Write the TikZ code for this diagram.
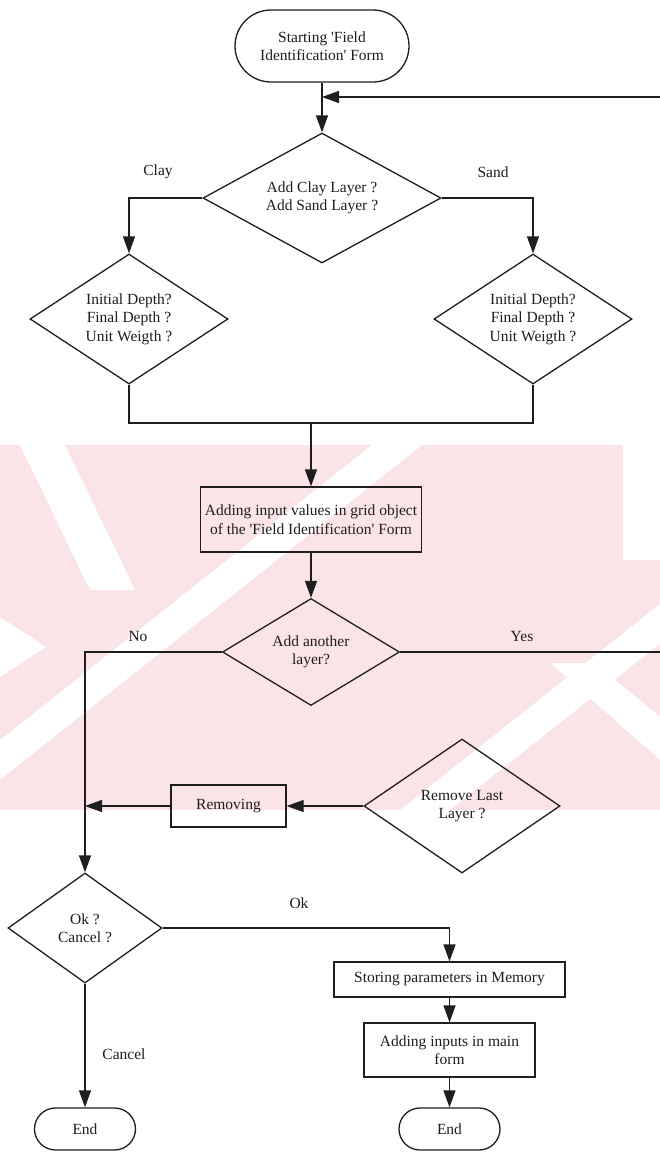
\documentclass[tikz,border=0pt]{standalone}
\usepackage{fontspec}
\setmainfont{Liberation Serif}
\usetikzlibrary{shapes.geometric,shapes.misc,arrows.meta}
\definecolor{ink}{RGB}{30,30,30}
\definecolor{wmpink}{RGB}{250,228,231}

\begin{document}
\begin{tikzpicture}[x=1pt,y=-1pt,
  font=\fontsize{15.5}{18.5}\selectfont,
  every node/.style={text=ink},
  line/.style={draw=ink, line width=1.3pt},
  arr/.style={line, -{Triangle[length=17pt,width=12pt]}},
  term/.style={rounded rectangle, draw=ink, line width=1.3pt, inner sep=0pt, align=center},
  decision/.style={diamond, draw=ink, line width=1.3pt, inner sep=0pt, align=center},
  process/.style={rectangle, draw=ink, line width=1.3pt, inner sep=0pt, align=center},
  lbl/.style={inner sep=0pt}
]
% page frame
\fill[white] (0,0) rectangle (660,1152);
\useasboundingbox (0,0) rectangle (660,1152);

% pale background band with diagonal cuts
\begin{scope}
  \clip (0,445) rectangle (660,810);
  \fill[wmpink] (0,445) rectangle (660,810);
  \fill[white] (20,445) -- (65,445) -- (135,590) -- (90,590) -- cycle;
  \fill[white] (372,445) -- (422,445) -- (-38,810) -- (-88,810) -- cycle;
  \fill[white] (400,810) -- (450,810) -- (710,604) -- (660,604) -- cycle;
  \fill[white] (550,663) -- (595,663) -- (700,750) -- (700,795) -- cycle;
  \fill[white] (623,445) rectangle (660,560);
  \fill[white] (0,617) -- (46,647) -- (0,677) -- cycle;
\end{scope}

% terminals, decisions and steps
\node[term, minimum width=174pt, minimum height=72pt] (start) at (322,46)
  {Starting \textquotesingle Field\\Identification\textquotesingle\ Form};
\node[decision, minimum width=238pt, minimum height=130pt, shape aspect=1.83] (d1) at (322,198)
  {Add Clay Layer ?\\Add Sand Layer ?};
\node[decision, minimum width=198pt, minimum height=130pt, shape aspect=1.5] (dl) at (129,319)
  {Initial Depth?\\Final Depth ?\\Unit Weigth ?};
\node[decision, minimum width=198pt, minimum height=130pt, shape aspect=1.5] (dr) at (533,319)
  {Initial Depth?\\Final Depth ?\\Unit Weigth ?};
\node[process, minimum width=221pt, minimum height=65pt] (grid) at (311,519.5)
  {Adding input values in grid object\\of the \textquotesingle Field Identification\textquotesingle\ Form};
\node[decision, minimum width=177pt, minimum height=107pt, shape aspect=1.65] (d3) at (311,652)
  {Add another\\layer?};
\node[decision, minimum width=196pt, minimum height=134pt, shape aspect=1.46] (rmd) at (462,806)
  {Remove Last\\Layer ?};
\node[process, minimum width=115pt, minimum height=42pt] (rem) at (228.5,806) {Removing};
\node[decision, minimum width=154pt, minimum height=110pt, shape aspect=1.4] (ok) at (85,928)
  {Ok ?\\Cancel ?};
\node[process, minimum width=231pt, minimum height=35pt] (store) at (449.5,979.5)
  {Storing parameters in Memory};
\node[process, minimum width=171pt, minimum height=54pt] (addin) at (449.5,1050)
  {Adding inputs in main\\form};
\node[term, minimum width=101pt, minimum height=42pt] (end1) at (85,1129) {End};
\node[term, minimum width=101pt, minimum height=42pt] (end2) at (449.5,1129) {End};

% branch labels
\node[lbl] (clay) at (158,172) {Clay};
\node[lbl] (sand) at (493,172) {Sand};
\node[lbl] (no) at (138,636) {No};
\node[lbl] (yes) at (522,636) {Yes};
\node[lbl] (oklbl) at (299,903) {Ok};
\node[lbl] (cancel) at (124,1054) {Cancel};

% helper points on the lines; the return line runs just past the right margin
\coordinate (loopin) at (322,97);
\coordinate (edge) at (661,0);
\coordinate (merge) at (311,423);

% connectors
\draw[arr] (start.south) -- (d1.north);
\draw[arr] (d1.west) -| (dl.north);
\draw[arr] (d1.east) -| (dr.north);
\draw[line] (dl.south) |- (merge) -| (dr.south);
\draw[arr] (merge) -- (grid.north);
\draw[arr] (grid.south) -- (d3.north);
\draw[arr] (d3.east) -- (d3.east -| edge) -- (edge |- loopin) -- (loopin);
\draw[arr] (d3.west) -| (ok.north);
\draw[arr] (rmd.west) -- (rem.east);
\draw[arr] (rem.west) -- (rem.west -| ok.north);
\draw[arr] (ok.east) -| (store.north);
\draw[arr] (store.south) -- (addin.north);
\draw[arr] (addin.south) -- (end2.north);
\draw[arr] (ok.south) -- (end1.north);
\end{tikzpicture}
\end{document}
